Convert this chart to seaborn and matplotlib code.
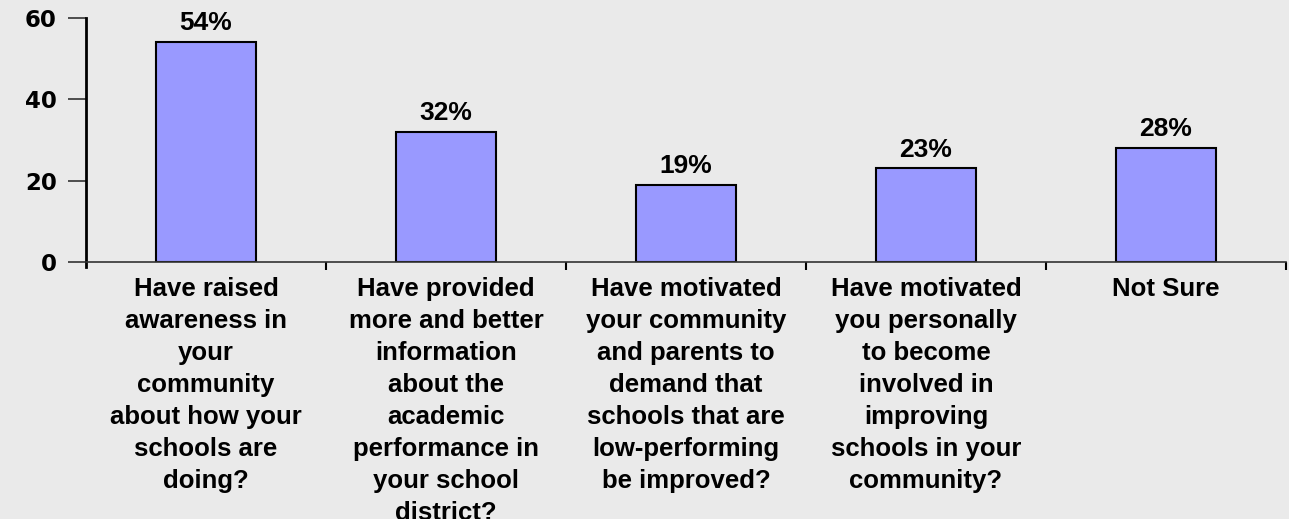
import pandas as pd
import matplotlib
matplotlib.use("Agg")
import matplotlib.pyplot as plt
import seaborn as sns

# Chart data
categories = [
    "Have raised\nawareness in\nyour\ncommunity\nabout how your\nschools are\ndoing?",
    "Have provided\nmore and better\ninformation\nabout the\nacademic\nperformance in\nyour school\ndistrict?",
    "Have motivated\nyour community\nand parents to\ndemand that\nschools that are\nlow-performing\nbe improved?",
    "Have motivated\nyou personally\nto become\ninvolved in\nimproving\nschools in your\ncommunity?",
    "Not Sure",
]
values = [54, 32, 19, 23, 28]
y_ticks = [0, 20, 40, 60]

df = pd.DataFrame({"Response": categories, "Percent": values})

sns.set_style("white")
plt.rcParams["font.family"] = ["Liberation Sans", "DejaVu Sans"]
plt.rcParams["text.color"] = "black"
plt.rcParams["xtick.color"] = "black"
plt.rcParams["ytick.color"] = "black"

bg = "#EAEAEA"
fig = plt.figure(figsize=(12.89, 5.19), dpi=100, facecolor=bg)
ax = fig.add_axes([86 / 1289, 257 / 519, 1200 / 1289, 244 / 519])
ax.set_facecolor(bg)

sns.barplot(data=df, x="Response", y="Percent", color="#9999FF", saturation=1,
            width=0.42, edgecolor="black", linewidth=1.5, ax=ax)

# Percent labels above bars
for i, v in enumerate(values):
    ax.text(i, v + 1.7, f"{v}%", ha="center", va="bottom",
            fontsize=19, fontweight="bold", color="black")

ax.set_ylim(0, 60)
ax.set_xlim(-0.5, len(categories) - 0.5)
ax.set_yticks(y_ticks)
ax.set_yticklabels([str(t) for t in y_ticks], fontsize=16.5, fontweight="heavy",
                   family="DejaVu Sans")
ax.tick_params(axis="y", left=True, direction="out", length=13, width=1.2,
               color="#333333", pad=8, labelcolor="black")

ax.set_xticks(range(len(categories)))
ax.set_xticklabels(categories, fontsize=18.5, fontweight="bold", linespacing=1.42,
                   color="black")
ax.tick_params(axis="x", which="major", bottom=False, length=0, pad=11)
ax.set_xticks([i + 0.5 for i in range(len(categories))], minor=True)
ax.tick_params(axis="x", which="minor", bottom=True, direction="out", length=6,
               width=1.5, color="black")

ax.set_xlabel("")
ax.set_ylabel("")

for s in ["top", "right"]:
    ax.spines[s].set_visible(False)
ax.spines["left"].set_linewidth(2)
ax.spines["left"].set_color("black")
ax.spines["left"].set_bounds(-1.3, 60)
ax.spines["bottom"].set_linewidth(1.2)
ax.spines["bottom"].set_color("#333333")

fig.savefig("out.png", dpi=100, facecolor=bg)
